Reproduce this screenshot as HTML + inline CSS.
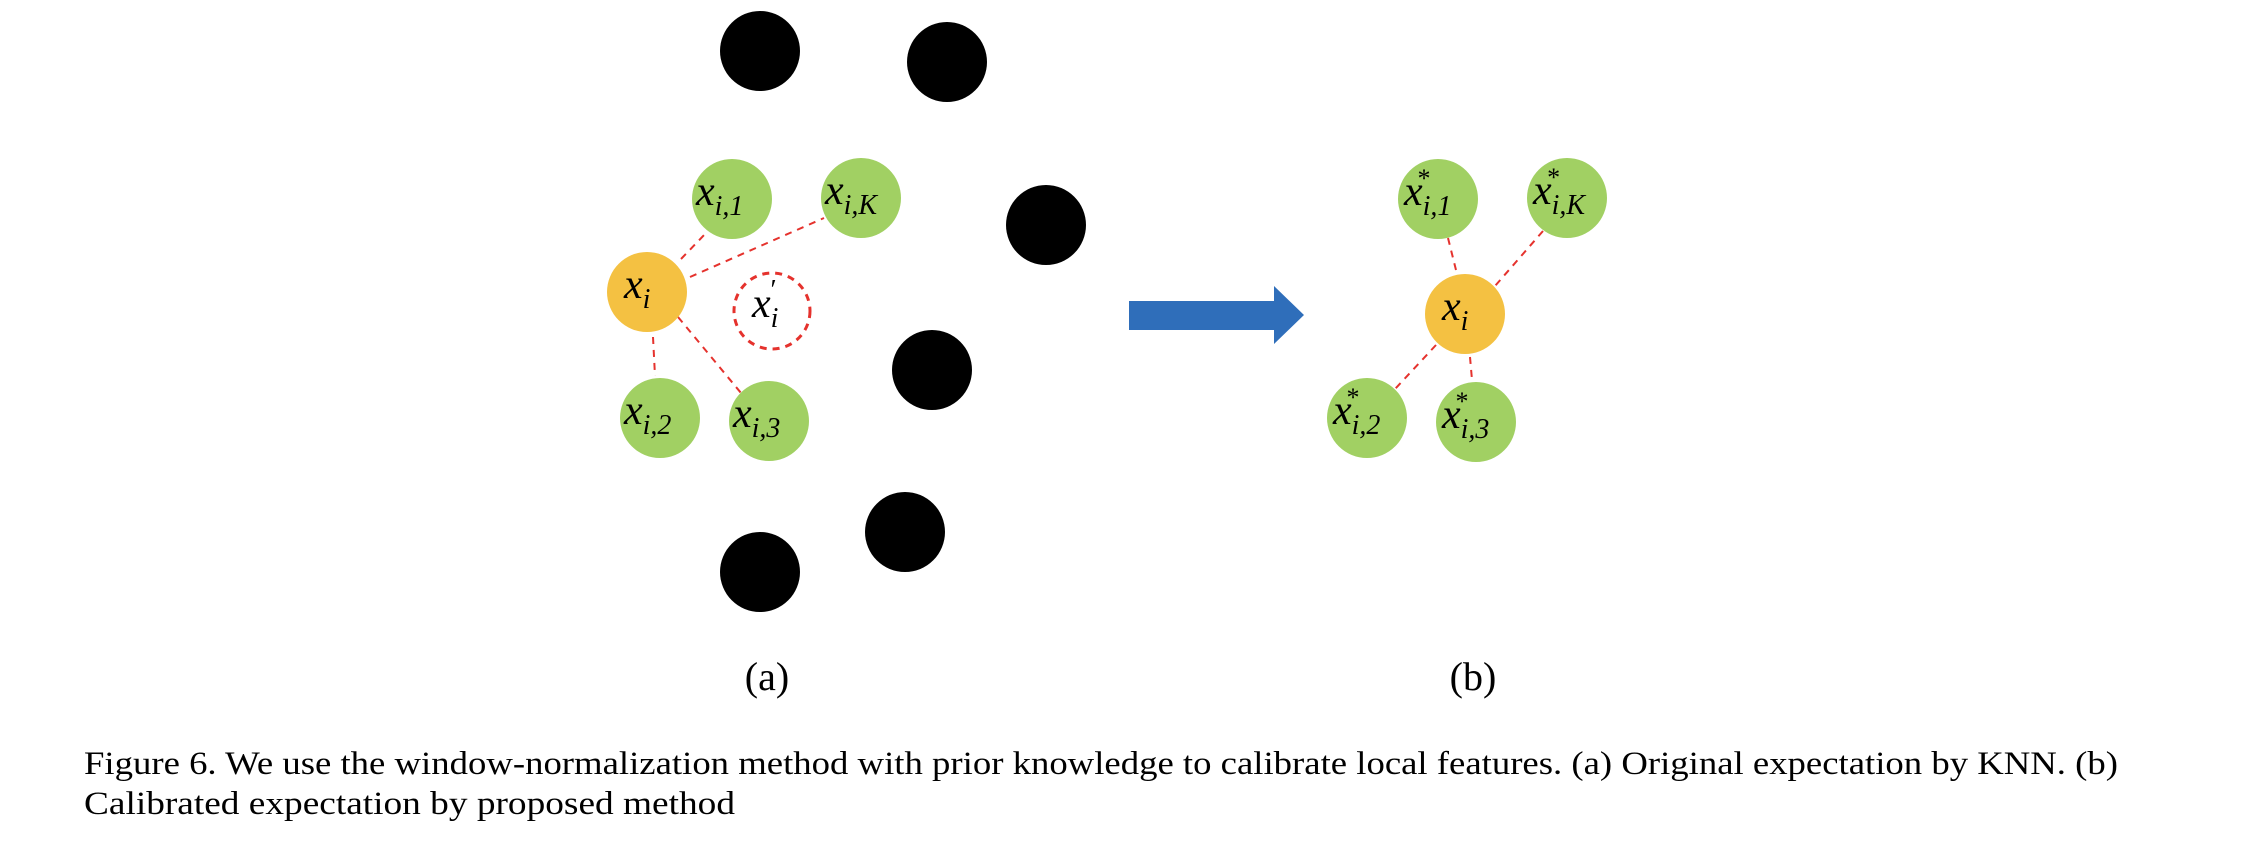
<!DOCTYPE html>
<html><head><meta charset="utf-8"><style>
html,body{margin:0;padding:0;background:#fff;}
svg{display:block;}
.lbl{font-family:"Liberation Serif",serif;font-style:italic;fill:#000;}
</style></head><body>
<svg width="2254" height="846" viewBox="0 0 2254 846" xmlns="http://www.w3.org/2000/svg">
<g fill="#000">
<ellipse cx="760" cy="51" rx="40" ry="40"/>
<ellipse cx="947" cy="62" rx="40" ry="40"/>
<ellipse cx="1046" cy="225" rx="40" ry="40"/>
<ellipse cx="932" cy="370" rx="40" ry="40"/>
<ellipse cx="905" cy="532" rx="40" ry="40"/>
<ellipse cx="760" cy="572" rx="40" ry="40"/>
</g>
<g stroke="#E5322D" stroke-width="2" stroke-dasharray="7,6" fill="none">
<line x1="681" y1="259" x2="707" y2="232"/>
<line x1="690" y1="277" x2="824" y2="218"/>
<line x1="653" y1="337" x2="655" y2="376"/>
<line x1="678" y1="317" x2="741" y2="393"/>
<circle cx="772" cy="311" r="38" stroke-width="3"/>
<line x1="1448" y1="238" x2="1456" y2="270"/>
<line x1="1543" y1="231" x2="1495" y2="286"/>
<line x1="1436" y1="345" x2="1395" y2="389"/>
<line x1="1470" y1="357" x2="1472" y2="380"/>
</g>
<g fill="#A1D063">
<circle cx="732" cy="199" r="40"/>
<circle cx="861" cy="198" r="40"/>
<circle cx="660" cy="418" r="40"/>
<circle cx="769" cy="421" r="40"/>
<circle cx="1438" cy="199" r="40"/>
<circle cx="1567" cy="198" r="40"/>
<circle cx="1367" cy="418" r="40"/>
<circle cx="1476" cy="422" r="40"/>
</g>
<g fill="#F4C142">
<circle cx="647" cy="292" r="40"/>
<circle cx="1465" cy="314" r="40"/>
</g>
<polygon points="1129,301 1274,301 1274,286 1304,315 1274,344 1274,330 1129,330" fill="#2F6EBA"/>
<g class="lbl">
<text x="696" y="205" font-size="42">x<tspan font-size="28" dy="10">i,1</tspan></text>
<text x="825" y="204" font-size="42">x<tspan font-size="28" dy="10">i,K</tspan></text>
<text x="624" y="298" font-size="42">x<tspan font-size="28" dy="10">i</tspan></text>
<text x="752" y="317" font-size="42">x<tspan font-size="28" dy="10">i</tspan><tspan font-size="28" dx="-8" dy="-28" font-style="normal">′</tspan></text>
<text x="624" y="424" font-size="42">x<tspan font-size="28" dy="10">i,2</tspan></text>
<text x="733" y="427" font-size="42">x<tspan font-size="28" dy="10">i,3</tspan></text>
<text x="1442" y="320" font-size="42">x<tspan font-size="28" dy="10">i</tspan></text>
<text x="1404" y="205" font-size="42">x<tspan font-size="28" dy="10">i,1</tspan><tspan font-size="26" font-style="normal" dx="-34" dy="-28">*</tspan></text>
<text x="1533" y="204" font-size="42">x<tspan font-size="28" dy="10">i,K</tspan><tspan font-size="26" font-style="normal" dx="-38" dy="-28">*</tspan></text>
<text x="1333" y="424" font-size="42">x<tspan font-size="28" dy="10">i,2</tspan><tspan font-size="26" font-style="normal" dx="-34" dy="-28">*</tspan></text>
<text x="1442" y="428" font-size="42">x<tspan font-size="28" dy="10">i,3</tspan><tspan font-size="26" font-style="normal" dx="-34" dy="-28">*</tspan></text>
</g>
<g font-family="Liberation Serif, serif" fill="#000">
<text x="767" y="690" font-size="40" text-anchor="middle">(a)</text>
<text x="1473" y="690" font-size="40" text-anchor="middle">(b)</text>
<text x="84" y="774" font-size="33" textLength="2034" lengthAdjust="spacingAndGlyphs">Figure 6. We use the window-normalization method with prior knowledge to calibrate local features. (a) Original expectation by KNN. (b)</text>
<text x="84" y="814" font-size="33" textLength="651" lengthAdjust="spacingAndGlyphs">Calibrated expectation by proposed method</text>
</g>
</svg>
</body></html>
